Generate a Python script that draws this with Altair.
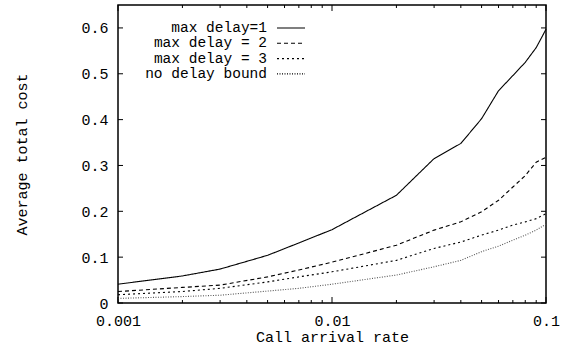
import altair as alt
import pandas as pd

rates = [0.001, 0.002, 0.003, 0.005, 0.007, 0.01, 0.02, 0.03, 0.04, 0.05, 0.06, 0.07, 0.08, 0.09, 0.1]
delay1 = [0.041, 0.059, 0.074, 0.104, 0.131, 0.160, 0.235, 0.315, 0.348, 0.402, 0.463, 0.496, 0.525, 0.557, 0.597]
delay2 = [0.025, 0.034, 0.039, 0.057, 0.072, 0.089, 0.126, 0.159, 0.177, 0.199, 0.224, 0.253, 0.278, 0.307, 0.318]
delay3 = [0.018, 0.025, 0.032, 0.046, 0.057, 0.068, 0.093, 0.119, 0.133, 0.148, 0.159, 0.170, 0.177, 0.184, 0.195]
nobound = [0.010, 0.014, 0.017, 0.026, 0.032, 0.041, 0.061, 0.079, 0.093, 0.112, 0.124, 0.137, 0.148, 0.159, 0.172]

series_names = ["max delay=1", "max delay = 2", "max delay = 3", "no delay bound"]
series_values = [delay1, delay2, delay3, nobound]
series_dashes = [[1, 0], [4, 3], [2, 3], [1, 1.5]]

x_major = [0.001, 0.01, 0.1]
x_minor = [0.002, 0.003, 0.004, 0.005, 0.006, 0.007, 0.008, 0.009,
           0.02, 0.03, 0.04, 0.05, 0.06, 0.07, 0.08, 0.09]
y_ticks = [0, 0.1, 0.2, 0.3, 0.4, 0.5, 0.6]

W, H = 428, 298
FONT = "Liberation Mono"

rows = []
for name, vals in zip(series_names, series_values):
    for r, v in zip(rates, vals):
        rows.append({"rate": r, "cost": v, "series": name})
df = pd.DataFrame(rows)

xscale = alt.Scale(type="log", domain=[0.001, 0.1])
yscale = alt.Scale(domain=[0, 0.65], nice=False)
dash_scale = alt.Scale(domain=series_names, range=series_dashes)

xaxis = alt.Axis(values=x_major, format="g", ticks=False, domain=False, grid=False,
                 labelFlush=False, labelPadding=10, labelFontSize=15, labelFont=FONT,
                 labelColor="black",
                 title="Call arrival rate", titleFont=FONT, titleFontSize=15,
                 titleFontWeight="normal", titleColor="black",
                 titleY=33, titleBaseline="middle")
yaxis = alt.Axis(values=y_ticks, labelExpr="datum.value == 0 ? '0' : format(datum.value, '.1f')",
                 ticks=False, domain=False, grid=False, labelFlush=False,
                 labelPadding=10, labelFontSize=15, labelFont=FONT, labelColor="black",
                 title="Average total cost", titleFont=FONT, titleFontSize=15,
                 titleFontWeight="normal", titleColor="black",
                 titleX=-97, titleY=H / 2, titleBaseline="middle", titleAlign="center")

lines_main = alt.Chart(df).transform_filter(
    alt.datum.series != "no delay bound"
).mark_line(strokeWidth=1.1, color="black").encode(
    x=alt.X("rate:Q", scale=xscale, axis=xaxis),
    y=alt.Y("cost:Q", scale=yscale, axis=yaxis),
    strokeDash=alt.StrokeDash("series:N", scale=dash_scale, legend=None),
)
lines_nb = alt.Chart(df).transform_filter(
    alt.datum.series == "no delay bound"
).mark_line(strokeWidth=1.1, color="#555555").encode(
    x=alt.X("rate:Q", scale=xscale, axis=None),
    y=alt.Y("cost:Q", scale=yscale, axis=None),
    strokeDash=alt.StrokeDash("series:N", scale=dash_scale, legend=None),
)

# legend (drawn inside the plot, labels to the left of line samples)
leg_df = pd.DataFrame({"series": series_names, "row": list(range(len(series_names)))})
leg_base = alt.Chart(leg_df).transform_calculate(py="23 + datum.row * 15.3")
leg_text = leg_base.mark_text(align="right", baseline="middle", font=FONT, fontSize=14.5,
                              color="black").encode(
    x=alt.value(149), y=alt.Y("py:Q", scale=None, axis=None), text="series:N")
leg_line = leg_base.mark_rule(strokeWidth=1.1, color="black").encode(
    x=alt.value(159), x2=alt.value(187), y=alt.Y("py:Q", scale=None, axis=None),
    strokeDash=alt.StrokeDash("series:N", scale=dash_scale, legend=None))

df_xmaj = pd.DataFrame({"v": x_major})
df_xmin = pd.DataFrame({"v": x_minor})
df_y = pd.DataFrame({"v": y_ticks})


def x_tick_layers(data, length):
    out = []
    for a, b in ((H, H - length), (0, length)):
        out.append(
            alt.Chart(data).transform_calculate(p0=str(a), p1=str(b))
            .mark_rule(color="black", strokeWidth=1).encode(
                x=alt.X("v:Q", scale=xscale, axis=None),
                y=alt.Y("p0:Q", scale=None, axis=None),
                y2=alt.Y2("p1:Q"))
        )
    return out


def y_tick_layers(data, length):
    out = []
    for a, b in ((0, length), (W, W - length)):
        out.append(
            alt.Chart(data).transform_calculate(p0=str(a), p1=str(b))
            .mark_rule(color="black", strokeWidth=1).encode(
                y=alt.Y("v:Q", scale=yscale, axis=None),
                x=alt.X("p0:Q", scale=None, axis=None),
                x2=alt.X2("p1:Q"))
        )
    return out


chart = alt.layer(
    lines_main, lines_nb,
    *x_tick_layers(df_xmaj, 6), *x_tick_layers(df_xmin, 3), *y_tick_layers(df_y, 5),
    leg_text, leg_line
).resolve_axis(
    x="independent", y="independent"
).properties(
    width=W, height=H, background="white",
    autosize=alt.AutoSizeParams(type="none"),
    padding={"left": 118, "top": 5, "right": 20, "bottom": 44},
).configure_view(
    stroke="black", strokeWidth=1.5
)

chart.save("out.html", embed_options={"renderer": "svg", "actions": False})
